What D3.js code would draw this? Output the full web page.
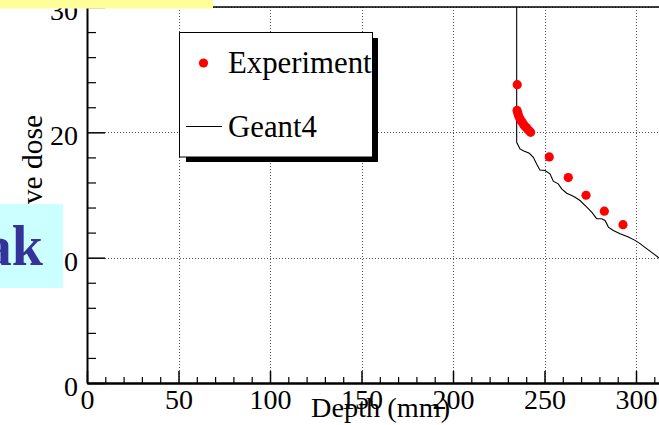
<!DOCTYPE html>
<html>
<head>
<meta charset="utf-8">
<script src="https://cdn.jsdelivr.net/npm/d3@7"></script>
<style>
  html, body { margin: 0; padding: 0; background: #fff; }
  svg { display: block; }
  text { font-family: "Liberation Serif", "Times New Roman", serif; }
</style>
</head>
<body>
<svg id="chart" width="659" height="425"></svg>
<script>
// ---- data ----
const depthMajorTicks = [0, 50, 100, 150, 200, 250, 300];
const depthMinorTicks = [10,20,30,40,60,70,80,90,110,120,130,140,160,170,180,190,210,220,230,240,260,270,280,290,310];
const doseMajorTicks = [0, 10, 20, 30];
const doseMinorTicks = [2,4,6,8,12,14,16,18,22,24,26,28];
const gridDepths = [50, 100, 150, 200, 250, 300];
const gridDoses = [10, 20, 30];

const expDepth = [235.1, 235.0, 235.4, 235.8, 236.4, 237.0, 237.7, 238.4, 239.2, 240.0, 240.8, 241.6, 242.4, 252.6, 263.0, 272.7, 282.7, 292.9];
const expDose  = [23.8, 21.75, 21.55, 21.35, 21.15, 20.98, 20.82, 20.67, 20.5, 20.38, 20.25, 20.12, 20.0, 18.04, 16.39, 14.98, 13.71, 12.63];

const g4Depth = [234.8, 234.8, 236.6, 238.4, 241.7, 243.9, 245.7, 247.5, 250.3, 253.0, 254.8, 257.5, 259.4, 262.1, 264.9, 266.7, 269.4, 273.1, 275.8, 278.5, 281.3, 283.1, 284.9, 287.6, 291.3, 295.8, 299.5, 302.2, 305.8, 309.5, 312.6, 316.0];
const g4Dose  = [60.0, 19.2, 18.68, 18.54, 18.33, 18.01, 17.48, 17.0, 16.95, 16.69, 16.1, 15.89, 15.49, 15.14, 14.96, 14.82, 14.56, 14.03, 13.63, 13.11, 13.11, 12.97, 12.44, 12.17, 11.91, 11.64, 11.38, 11.12, 10.72, 10.32, 9.97, 9.6];

const legendLabels = ["Experiment", "Geant4"];
const xTitle = "Depth (mm)";
const yTitle = "Relative dose";
const sideLabel = "Peak";

// ---- layout ----
const svg = d3.select("#chart");
const pL = 87, pB = 383, pT = 7, pR = 672.6;
const x = d3.scaleLinear().domain([0, 320]).range([pL, pR]);
const y = d3.scaleLinear().domain([0, 30]).range([pB, pT]);

svg.append("rect").attr("width", 659).attr("height", 425).attr("fill", "#fff");

svg.append("defs").append("clipPath").attr("id", "plotclip")
  .append("rect").attr("x", pL).attr("y", pT).attr("width", pR - pL).attr("height", pB - pT);

// grid
const grid = svg.append("g").attr("stroke", "#555").attr("stroke-width", 1).attr("stroke-dasharray", "1,2");
grid.selectAll("line.v").data(gridDepths).join("line").attr("class", "v")
  .attr("x1", d => Math.round(x(d)) + 0.5).attr("x2", d => Math.round(x(d)) + 0.5)
  .attr("y1", pT).attr("y2", pB);
grid.selectAll("line.h").data(gridDoses).join("line").attr("class", "h")
  .attr("y1", d => Math.round(y(d)) + 0.5).attr("y2", d => Math.round(y(d)) + 0.5)
  .attr("x1", pL).attr("x2", 659);

// top frame line
svg.append("line").attr("x1", pL).attr("x2", 659).attr("y1", pT).attr("y2", pT)
  .attr("stroke", "#000").attr("stroke-width", 1.3);

// Geant4 line
const line = d3.line().x(d => x(d[0])).y(d => y(d[1]));
svg.append("path")
  .attr("clip-path", "url(#plotclip)")
  .attr("d", line(d3.zip(g4Depth, g4Dose)))
  .attr("fill", "none").attr("stroke", "#000").attr("stroke-width", 1.1);

// Experiment points
svg.append("g").selectAll("circle").data(d3.zip(expDepth, expDose)).join("circle")
  .attr("cx", d => x(d[0])).attr("cy", d => y(d[1])).attr("r", 4.6).attr("fill", "#ff0000");

// x axis
const xMajor = d3.axisBottom(x).tickValues(depthMajorTicks).tickSizeInner(-12).tickSizeOuter(0).tickPadding(6).tickFormat(d3.format("d"));
const gx = svg.append("g").attr("transform", `translate(0,${pB})`).call(xMajor);
gx.select(".domain").attr("stroke-width", 2.3);
gx.selectAll(".tick line").attr("stroke-width", 1.5);
gx.selectAll("text").attr("font-size", 28).attr("font-family", "Liberation Serif").attr("fill", "#000");
const xMinor = d3.axisBottom(x).tickValues(depthMinorTicks).tickSizeInner(-6).tickSizeOuter(0).tickFormat("");
const gx2 = svg.append("g").attr("transform", `translate(0,${pB})`).call(xMinor);
gx2.select(".domain").remove();
gx2.selectAll(".tick line").attr("stroke-width", 1.2);

// y axis
const yMajor = d3.axisLeft(y).tickValues(doseMajorTicks).tickSizeInner(-18).tickSizeOuter(0).tickPadding(9).tickFormat(d3.format("d"));
const gy = svg.append("g").attr("transform", `translate(${pL},0)`).call(yMajor);
gy.select(".domain").attr("stroke-width", 2);
gy.selectAll(".tick line").attr("stroke-width", 1.5);
gy.selectAll("text").attr("font-size", 28).attr("font-family", "Liberation Serif").attr("fill", "#000").attr("dy", "0.45em");
const yMinor = d3.axisLeft(y).tickValues(doseMinorTicks).tickSizeInner(-9).tickSizeOuter(0).tickFormat("");
const gy2 = svg.append("g").attr("transform", `translate(${pL},0)`).call(yMinor);
gy2.select(".domain").remove();
gy2.selectAll(".tick line").attr("stroke-width", 1.2);

// axis titles
svg.append("text").attr("x", 311).attr("y", 417).attr("font-size", 28.3).attr("fill", "#000").text(xTitle);
svg.append("text").attr("transform", "translate(42,115) rotate(-90)").attr("text-anchor", "end")
  .attr("font-size", 29.5).attr("fill", "#000").text(yTitle);

// legend
const lg = svg.append("g");
lg.append("rect").attr("x", 186).attr("y", 38).attr("width", 192).attr("height", 124).attr("fill", "#000");
lg.append("rect").attr("x", 179.5).attr("y", 32.5).attr("width", 193).attr("height", 124.5)
  .attr("fill", "#fff").attr("stroke", "#000").attr("stroke-width", 1);
lg.append("circle").attr("cx", 203.5).attr("cy", 63).attr("r", 4.6).attr("fill", "#ff0000");
lg.append("line").attr("x1", 186).attr("x2", 222).attr("y1", 126.5).attr("y2", 126.5).attr("stroke", "#000").attr("stroke-width", 1);
lg.append("text").attr("x", 228).attr("y", 73).attr("font-size", 30.8).attr("fill", "#000").text(legendLabels[0]);
lg.append("text").attr("x", 228).attr("y", 137).attr("font-size", 30.8).attr("fill", "#000").text(legendLabels[1]);

// overlay boxes from the slide
svg.append("rect").attr("x", 0).attr("y", 0).attr("width", 213).attr("height", 8.5).attr("fill", "#ffff99");
svg.append("rect").attr("x", 0).attr("y", 204).attr("width", 63).attr("height", 84).attr("fill", "#ccffff");
svg.append("text").attr("x", 43).attr("y", 265).attr("text-anchor", "end")
  .attr("font-size", 56).attr("font-weight", "bold").attr("fill", "#333399").text(sideLabel);
</script>
</body>
</html>
